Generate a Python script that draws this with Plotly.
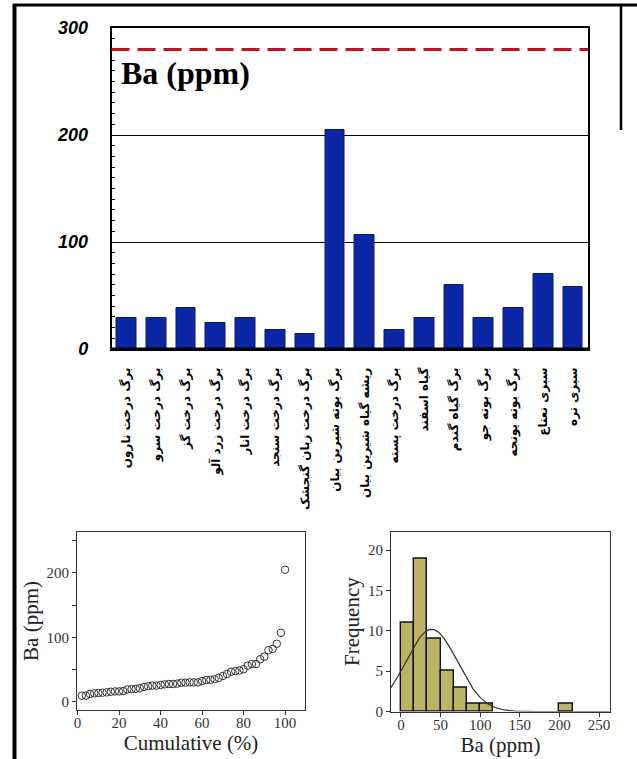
import numpy as np
import plotly.graph_objects as go

# ---------------- data ----------------
categories = [
    "برگ درخت نارون", "برگ درخت سرو", "برگ درخت گز", "برگ درخت زرد آلو",
    "برگ درخت انار", "برگ درخت سنجد", "برگ درخت زبان گنجشک",
    "برگ بوته شیرین بیان", "ریشه گیاه شیرین بیان", "برگ درخت پسته",
    "گیاه اسفند", "برگ گیاه گندم", "برگ بوته جو", "برگ بوته یونجه",
    "سبزی نعناع", "سبزی تره",
]
ba_values = [29, 29, 38, 24, 29, 17.5, 14, 205, 107, 17.5, 29, 60, 29, 38, 70, 58]
ba_limit = 280
top_yticks = [0, 100, 200, 300]

# all samples (sorted)
ba_samples = [
    9.3, 9.5, 12, 13, 13.5, 14, 14.5, 15.5, 16, 16, 16.5,
    19, 19.5, 20, 21, 23, 24, 25, 25, 26, 27, 27.5, 27.5, 28, 29.5, 29.5,
    30, 30, 30, 32, 33.5, 34, 35, 37, 40, 43, 46.5, 47.5, 48.5,
    50.5, 56, 58.5, 58.5, 66, 70, 80, 82, 90, 107, 205,
]
hist_bin_size = 50 / 3

# ---------------- figure ----------------
W, H = 637, 759
fig = go.Figure()

# top bar chart
fig.add_trace(go.Bar(
    x=categories, y=ba_values, xaxis="x", yaxis="y", width=0.66,
    marker=dict(color="#0b27a6", line=dict(color="#08186e", width=1)),
    showlegend=False,
))

# cumulative plot
n = len(ba_samples)
cum_pct = [100 * (i + 1) / n for i in range(n)]
fig.add_trace(go.Scatter(
    x=cum_pct, y=sorted(ba_samples), xaxis="x2", yaxis="y2", mode="markers",
    marker=dict(symbol="circle-open", size=7.5, color="#333333", line=dict(width=1)),
    showlegend=False,
))

# histogram
fig.add_trace(go.Histogram(
    x=ba_samples, xaxis="x3", yaxis="y3",
    xbins=dict(start=0, end=250, size=hist_bin_size),
    marker=dict(color="#bbb466", line=dict(color="#111111", width=1.4)),
    showlegend=False,
))

# fitted normal curve
mu = float(np.mean(ba_samples))
sd = float(np.std(ba_samples, ddof=1))
xc = np.linspace(-13, 263, 300)
yc = n * hist_bin_size / (sd * np.sqrt(2 * np.pi)) * np.exp(-0.5 * ((xc - mu) / sd) ** 2)
fig.add_trace(go.Scatter(
    x=xc, y=yc, xaxis="x3", yaxis="y3", mode="lines",
    line=dict(color="#333333", width=1.2), showlegend=False,
))

serif = "Liberation Serif"
px = lambda v: v / W
py = lambda v: 1 - v / H

small_axis = dict(
    showline=True, mirror=True, linecolor="#333333", linewidth=1.2,
    ticks="outside", ticklen=4, tickcolor="#333333", showgrid=False, zeroline=False,
    tickfont=dict(family=serif, size=15, color="#333333"),
    automargin=False,
)
title_font = dict(family=serif, size=21, color="#222222")

fig.update_layout(
    width=W, height=H, margin=dict(l=0, r=0, t=0, b=0),
    paper_bgcolor="white", plot_bgcolor="white",
    bargap=0,
    xaxis=dict(
        domain=[px(111.5), px(588)], range=[-0.5, 15.5], anchor="y",
        showline=True, mirror=True, linecolor="black", linewidth=1.5,
        ticks="", tickangle=-90, ticklabelstandoff=12,
        tickfont=dict(family="DejaVu Sans", size=12, color="black", weight="bold"),
        showgrid=False, zeroline=False, automargin=False,
    ),
    yaxis=dict(
        domain=[py(349), py(28)], range=[0, 300], anchor="x",
        tickvals=top_yticks,
        showline=True, mirror=True, linecolor="black", linewidth=1.5,
        ticks="inside", ticklen=4, tickcolor="black",
        minor=dict(dtick=10, ticks="inside", ticklen=4, tickcolor="black", showgrid=False),
        showgrid=True, gridcolor="black", gridwidth=1, zeroline=False,
        ticklabelstandoff=18,
        tickfont=dict(family="Liberation Sans", size=18, color="black", style="italic", weight="bold"),
        automargin=False,
    ),
    xaxis2=dict(
        small_axis, domain=[px(77), px(305)], range=[-0.3, 109.6], anchor="y2",
        dtick=20, tick0=0, ticklabelstandoff=-5,
        title=dict(text="Cumulative (%)", font=title_font, standoff=2),
    ),
    yaxis2=dict(
        small_axis, domain=[py(710), py(532)], range=[-12.9, 263.6], anchor="x2",
        dtick=100, tick0=0,
        minor=dict(dtick=50, ticks="outside", ticklen=4, tickcolor="#333333"),
        title=dict(text="Ba (ppm)", font=title_font, standoff=2),
    ),
    xaxis3=dict(
        small_axis, domain=[px(391), px(610)], range=[-12.6, 263.8], anchor="y3",
        dtick=50, tick0=0, ticklabelstandoff=-5,
        title=dict(text="Ba (ppm)", font=title_font, standoff=2),
    ),
    yaxis3=dict(
        small_axis, domain=[py(711.5), py(531.7)], range=[0, 22.3], anchor="x3",
        dtick=5, tick0=0,
        title=dict(text="Frequency", font=title_font, standoff=2),
    ),
    annotations=[dict(
        text="<b>Ba (ppm)</b>", xref="paper", yref="paper",
        x=px(119), y=py(73), xanchor="left", yanchor="middle", showarrow=False,
        font=dict(family=serif, size=32, color="black"),
    )],
    shapes=[
        # reference limit line
        dict(type="line", xref="x domain", yref="y", x0=0, x1=1, y0=ba_limit, y1=ba_limit,
             line=dict(color="#c0141c", width=3, dash="18px,8px")),
        # thick bottom axis
        dict(type="line", xref="x domain", yref="y", x0=0, x1=1, y0=0, y1=0,
             line=dict(color="black", width=3)),
        # outer frame
        dict(type="line", xref="paper", yref="paper", x0=px(14.5), x1=px(14.5), y0=py(4), y1=0,
             line=dict(color="black", width=4)),
        dict(type="line", xref="paper", yref="paper", x0=px(13), x1=1, y0=py(5), y1=py(5),
             line=dict(color="black", width=3)),
        dict(type="line", xref="paper", yref="paper", x0=px(621), x1=px(621), y0=py(5), y1=py(130),
             line=dict(color="black", width=2.5)),
    ],
)

fig.write_html(
    "out.html",
    config={"displayModeBar": False},
    post_script="document.body.style.margin='0';document.body.style.padding='0';",
)
